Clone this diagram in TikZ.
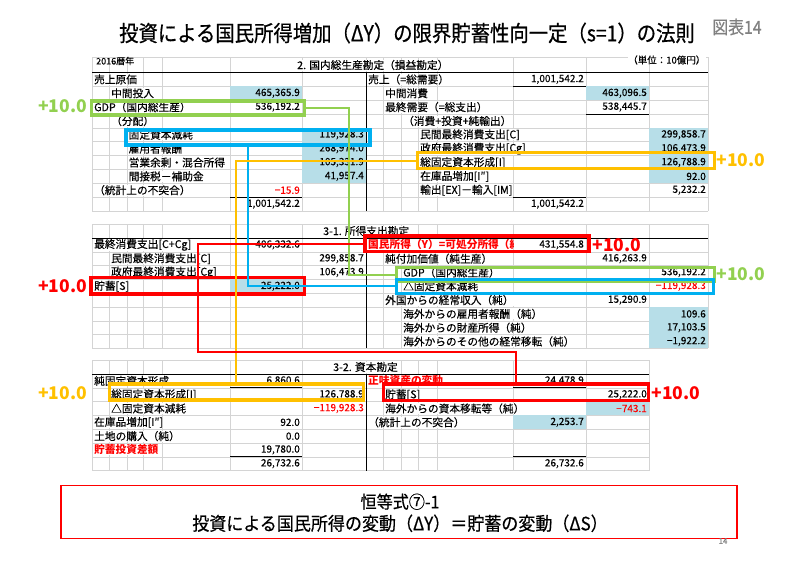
\documentclass[tikz,border=0pt]{standalone}
\usepackage{fontspec}
\setmainfont{Noto Sans CJK JP}[UprightFeatures={FakeBold=0.3}]
\newfontfamily\headfont{Noto Sans CJK JP}[FakeStretch=0.88,FakeBold=0.6]
\newfontfamily\eqfont{Noto Sans CJK JP}[FakeStretch=0.92,FakeBold=0.5]
\usetikzlibrary{calc}
\definecolor{gridc}{RGB}{212,212,212}
\definecolor{cellb}{RGB}{183,222,232}
\definecolor{lgreen}{RGB}{146,208,80}
\definecolor{lblue}{RGB}{0,176,240}
\definecolor{lorange}{RGB}{255,192,0}
\definecolor{lred}{RGB}{255,0,0}
\definecolor{figgray}{RGB}{128,128,128}
\newcommand{\fsz}[1]{\fontsize{#1}{#1}\selectfont}
\tikzset{
  gridline/.style={draw=gridc, line width=0.6pt},
  darkline/.style={draw=black, line width=0.8pt},
  lbl/.style={anchor=west, font=\fsz{10.7}, fill=white, inner xsep=1pt, inner ysep=0pt, minimum height=11pt},
  rlbl/.style={lbl, text=lred, font=\fsz{10.7}\bfseries},
  num/.style={anchor=east, font=\fsz{10}, inner sep=0pt},
  hbox/.style={draw=#1, line width=3.2pt, inner sep=0pt, rectangle},
  conn/.style={draw=#1, line width=2pt},
  plus/.style={font=\fsz{17.5}\bfseries, text=#1, inner sep=0pt},
}
\begin{document}
\begin{tikzpicture}[x=1pt,y=-1pt]
\useasboundingbox (0,0) rectangle (800,566);

% ---------- grids ----------
\draw[gridline] (92,57) -- (708,57);
\foreach \k in {0,...,10} {\pgfmathsetmacro\yy{72.5+13.85*\k} \draw[gridline] (92,\yy) -- (708,\yy);}
\foreach \xx in {92,109,127,143,162,230,302,366,383,401,418,437,513,586,649,708} \draw[gridline] (\xx,57) -- (\xx,211);

\draw[gridline] (92,224) -- (708,224);
\foreach \k in {0,...,8} {\pgfmathsetmacro\yy{238+13.8*\k} \draw[gridline] (92,\yy) -- (708,\yy);}
\foreach \xx in {92,109,127,143,162,230,302,366,383,401,418,437,513,586,649,708} \draw[gridline] (\xx,224) -- (\xx,348.4);

\draw[gridline] (92,360) -- (649,360);
\foreach \k in {0,...,7} {\pgfmathsetmacro\yy{374+13.8*\k} \draw[gridline] (92,\yy) -- (649,\yy);}
\foreach \xx in {92,109,127,143,162,230,302,366,383,401,418,437,513,586,649} \draw[gridline] (\xx,360) -- (\xx,470.6);

% ---------- blue cells ----------
\fill[cellb] (230,86.35) rectangle (302,100.2);
\fill[cellb] (302,127.9) rectangle (366,183.3);
\fill[cellb] (586,86.35) rectangle (649,100.2);
\fill[cellb] (649,127.9) rectangle (708,183.3);
\fill[cellb] (230,279.4) rectangle (302,293.2);
\fill[cellb] (649,307) rectangle (708,348.4);
\fill[cellb] (586,401.6) rectangle (649,415.4);
\fill[cellb] (513,415.4) rectangle (586,429.2);

% ---------- title ----------
\node[font=\headfont\fsz{22}] (title) at (407,33) {投資による国民所得増加（ΔY）の限界貯蓄性向一定（s=1）の法則};
\node[font=\headfont\fsz{18}, text=figgray] (fig) at (737,27) {図表14};

% ---------- headers ----------
\node[anchor=west, font=\fsz{9}, inner sep=0pt] (h0) at (96,61) {2016暦年};
\node[lbl] (h1) at (296,65) {2. 国内総生産勘定（損益勘定）};
\node[anchor=east, font=\fsz{9.5}, fill=white, inner sep=0.5pt] (h2) at (706,60) {（単位：10億円）};
\node[lbl] (h3) at (322,231) {3-1. 所得支出勘定};
\node[lbl] (h4) at (332,367) {3-2. 資本勘定};

% ---------- table 1 left ----------
\node[lbl] (a1) at (93,79.4) {売上原価};
\node[lbl] (a2) at (110,93.3) {中間投入};
\node[num] (a2v) at (300,93.3) {465,365.9};
\node[lbl] (a3) at (93,107.1) {GDP（国内総生産）};
\node[num] (a3v) at (300,107.1) {536,192.2};
\node[lbl] (a4) at (110,121.0) {（分配）};
\node[lbl] (a5) at (127.5,134.8) {固定資本減耗};
\node[num] (a5v) at (364,134.8) {119,928.3};
\node[lbl] (a6) at (127.5,148.7) {雇用者報酬};
\node[num] (a6v) at (364,148.7) {268,974.0};
\node[lbl] (a7) at (127.5,162.5) {営業余剰・混合所得};
\node[num] (a7v) at (364,162.5) {105,331.9};
\node[lbl] (a8) at (127.5,176.4) {間接税－補助金};
\node[num] (a8v) at (364,176.4) {41,957.4};
\node[lbl] (a9) at (93,190.2) {（統計上の不突合）};
\node[num, text=lred] (a9v) at (300,190.2) {−15.9};
\node[num] (a10v) at (300,204.1) {1,001,542.2};

% ---------- table 1 right ----------
\node[lbl] (b1t) at (367,79.4) {売上（=総需要）};
\node[num] (b1v) at (584,79.4) {1,001,542.2};
\node[lbl] (b2t) at (384,93.3) {中間消費};
\node[num] (b2v) at (647,93.3) {463,096.5};
\node[lbl] (b3t) at (384,107.1) {最終需要（=総支出）};
\node[num] (b3v) at (647,107.1) {538,445.7};
\node[lbl] (b4t) at (402,121.0) {（消費+投資+純輸出）};
\node[lbl] (b5t) at (419,134.8) {民間最終消費支出[C]};
\node[num] (b5v) at (706,134.8) {299,858.7};
\node[lbl] (b6t) at (419,148.7) {政府最終消費支出[Cg]};
\node[num] (b6v) at (706,148.7) {106,473.9};
\node[lbl] (b7t) at (419,162.5) {総固定資本形成[I]};
\node[num] (b7v) at (706,162.5) {126,788.9};
\node[lbl] (b8t) at (419,176.4) {在庫品増加[I″]};
\node[num] (b8v) at (706,176.4) {92.0};
\node[lbl] (b9t) at (419,190.2) {輸出[EX]－輸入[IM]};
\node[num] (b9v) at (706,190.2) {5,232.2};
\node[num] (b10v) at (584,204.1) {1,001,542.2};

% ---------- table 2 left ----------
\node[lbl] (c1) at (93,244.9) {最終消費支出[C+Cg]};
\node[num] (c1v) at (300,244.9) {406,332.6};
\node[lbl] (c2) at (110,258.7) {民間最終消費支出[C]};
\node[num] (c2v) at (364,258.7) {299,858.7};
\node[lbl] (c3) at (110,272.5) {政府最終消費支出[Cg]};
\node[num] (c3v) at (364,272.5) {106,473.9};
\node[lbl] (c4) at (93,286.3) {貯蓄[S]};
\node[num] (c4v) at (300,286.3) {25,222.0};

% ---------- table 2 right ----------
\begin{scope}
\clip (366.5,238.5) rectangle (513,251.5);
\node[rlbl] (d1) at (367,244.9) {国民所得（Y）=可処分所得（純）};
\end{scope}
\node[num] (d1v) at (584,244.9) {431,554.8};
\node[lbl] (d2) at (384,258.7) {純付加価値（純生産）};
\node[num] (d2v) at (647,258.7) {416,263.9};
\node[lbl] (d3) at (402,272.5) {GDP（国内総生産）};
\node[num] (d3v) at (706,272.5) {536,192.2};
\node[lbl] (d4) at (402,286.3) {△固定資本減耗};
\node[num, text=lred] (d4v) at (706,286.3) {−119,928.3};
\node[lbl] (d5) at (384,300.1) {外国からの経常収入（純）};
\node[num] (d5v) at (647,300.1) {15,290.9};
\node[lbl] (d6) at (402,313.9) {海外からの雇用者報酬（純）};
\node[num] (d6v) at (706,313.9) {109.6};
\node[lbl] (d7) at (402,327.7) {海外からの財産所得（純）};
\node[num] (d7v) at (706,327.7) {17,103.5};
\node[lbl] (d8) at (402,341.5) {海外からのその他の経常移転（純）};
\node[num] (d8v) at (706,341.5) {−1,922.2};

% ---------- table 3 left ----------
\node[lbl] (e1) at (93,380.9) {純固定資本形成};
\node[num] (e1v) at (300,380.9) {6,860.6};
\node[lbl] (e2) at (110,394.7) {総固定資本形成[I]};
\node[num] (e2v) at (364,394.7) {126,788.9};
\node[lbl] (e3) at (110,408.5) {△固定資本減耗};
\node[num, text=lred] (e3v) at (364,408.5) {−119,928.3};
\node[lbl] (e4) at (93,422.3) {在庫品増加[I″]};
\node[num] (e4v) at (300,422.3) {92.0};
\node[lbl] (e5) at (93,436.1) {土地の購入（純）};
\node[num] (e5v) at (300,436.1) {0.0};
\node[rlbl] (e6) at (93,449.9) {貯蓄投資差額};
\node[num] (e6v) at (300,449.9) {19,780.0};
\node[num] (e7v) at (300,463.7) {26,732.6};

% ---------- table 3 right ----------
\node[rlbl] (f1) at (367,380.9) {正味資産の変動};
\node[num] (f1v) at (584,380.9) {24,478.9};
\node[lbl] (f2) at (384,394.7) {貯蓄[S]};
\node[num] (f2v) at (647,394.7) {25,222.0};
\node[lbl] (f3) at (384,408.5) {海外からの資本移転等（純）};
\node[num, text=lred] (f3v) at (647,408.5) {−743.1};
\node[lbl] (f4) at (367,422.3) {（統計上の不突合）};
\node[num] (f4v) at (584,422.3) {2,253.7};
\node[num] (f7v) at (584,463.7) {26,732.6};

% ---------- dark rules ----------
\draw[darkline] (92,72.5) -- (708,72.5);
\draw[darkline] (366,72.5) -- (366,211);
\draw[darkline] (230,114.05) -- (302,114.05);
\draw[darkline] (230,197.15) -- (302,197.15);
\draw[darkline] (513,86.35) -- (586,86.35);
\draw[darkline] (586,114.05) -- (649,114.05);
\draw[darkline] (513,197.15) -- (586,197.15);
\draw[darkline] (92,238) -- (708,238);
\draw[darkline] (366,238) -- (366,348.4);
\draw[darkline] (586,293.2) -- (649,293.2);
\draw[darkline] (92,374) -- (649,374);
\draw[darkline] (366,374) -- (366,470.6);
\draw[darkline] (230,387.8) -- (302,387.8);
\draw[darkline] (230,456.8) -- (302,456.8);
\draw[darkline] (513,387.8) -- (586,387.8);
\draw[darkline] (513,456.8) -- (586,456.8);

% ---------- highlight boxes ----------
\node[hbox=lgreen, minimum width=212.8pt, minimum height=14pt] (gA) at (198,108) {};
\node[hbox=lblue, minimum width=244pt, minimum height=15pt] (bA) at (248,137.5) {};
\node[hbox=lorange, minimum width=296.8pt, minimum height=15.8pt] (oA) at (566,160.5) {};
\node[hbox=lred, minimum width=224pt, minimum height=15.7pt] (rA) at (477,243.85) {};
\node[hbox=lred, minimum width=213.4pt, minimum height=16.7pt] (rB) at (197.7,285.65) {};
\node[hbox=lgreen, minimum width=317.8pt, minimum height=14.4pt] (gB) at (555.5,274.5) {};
\node[hbox=lblue, minimum width=316.8pt, minimum height=14.1pt] (bB) at (555,286.35) {};
\node[hbox=lorange, minimum width=254pt, minimum height=16pt] (oB) at (236.35,392) {};
\node[hbox=lred, minimum width=265pt, minimum height=16.7pt] (rC) at (515.85,392.35) {};

% ---------- connectors ----------
\coordinate (gx) at (349.3,0);
\coordinate (rc) at (198.3,351.7);
\draw[conn=lgreen] (gA.east) -| (gx |- gB.west) -- (gB.west);
\draw[conn=lblue] (bA.south) |- (bB.west);
\draw[conn=lorange] (oA.west) -| (oB.north);
\draw[conn=lred] (rA.west) -| (rc) -| (rC.north);

% ---------- +10.0 labels ----------
\node[plus=lgreen, anchor=east] (pg1) at (87,106) {+10.0};
\node[plus=lgreen] (pg2) at (741,274) {+10.0};
\node[plus=lorange] (po1) at (741,160.5) {+10.0};
\node[plus=lorange, anchor=east] (po2) at (87,393) {+10.0};
\node[plus=lred] (pr1) at (617,245) {+10.0};
\node[plus=lred, anchor=east] (pr2) at (87,286) {+10.0};
\node[plus=lred] (pr3) at (676,393) {+10.0};

% ---------- identity box ----------
\node[draw=lred, line width=1.1pt, minimum width=676pt, minimum height=53pt, inner sep=0pt] (eqbox) at (399,511.7) {};
\node[font=\eqfont\fsz{17.5}] (eq1) at (400,501.7) {恒等式⑦-1};
\node[font=\eqfont\fsz{18.5}] (eq2) at (400,523.3) {投資による国民所得の変動（ΔY）＝貯蓄の変動（ΔS）};
\node[font=\fsz{8}, text=figgray, inner sep=0pt] (pgn) at (723,541) {14};
\end{tikzpicture}
\end{document}
